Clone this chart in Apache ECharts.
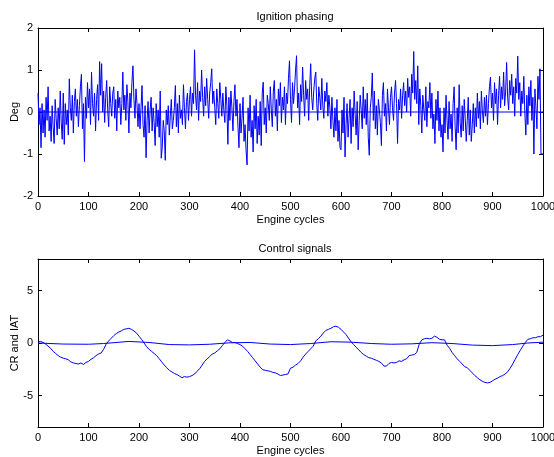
<!DOCTYPE html>
<html>
<head>
<meta charset="utf-8">
<script src="https://cdn.jsdelivr.net/npm/echarts@6/dist/echarts.min.js"></script>
<style>
  html, body { margin: 0; padding: 0; background: #fff; }
  #chart { width: 554px; height: 457px; }
</style>
</head>
<body>
<div id="chart"></div>
<script>
// Ignition phasing: one sample every 2 engine cycles (cycles 0..1000)
const phaseStep = 2;
const phasing = [
  0.45, -0.3, 0.1, -0.85, 0.2, -0.5, 0.05, -0.6, 0.35, -0.2, 0.6, -0.45, -0.1, -0.7, 0.15, -0.35, -0.75, 0.3, -0.15, -0.55, 0.1, -0.4, 0.5, -0.25, -0.65,
  0.45, -0.77, 0.2, -0.3, 0.05, -0.55, 0.79, 0.1, -0.2, 0.4, -0.5, 0.25, 0.55, -0.1, 0.3, -0.35, 0.15, 0.6, 0.9, -0.4, 0.2, -1.18, 0.35, -0.15, 0.7,
  0.1, 0.55, -0.3, 0.95, 0.2, -0.1, 0.45, -0.45, 0.3, 0.65, -0.2, 1.2, 0.4, 1.15, 0.0, 0.5, -0.25, 0.35, 0.75, 0.05, -0.35, 0.6, 0.2, -0.1, 0.45,
  0.6, -0.15, 0.3, -0.45, 0.5, 0.1, 0.35, -0.3, 0.2, 0.95, 0.05, 0.4, -0.2, 0.65, 0.25, -0.5, 0.45, 0.1, 0.7, 1.1, 0.3, -0.15, 0.55, 0.2, -0.35,
  0.2, -0.4, 0.1, 0.63, -0.3, -0.6, 0.15, -1.09, -0.2, 0.25, -0.5, 0.05, 0.35, -0.45, 0.1, -0.25, -0.8, 0.2, -0.35, 0.05, -0.6, 0.5, -1.1, -0.85, -0.2,
  -0.45, -1.15, 0.05, -0.3, 0.15, -0.55, -0.1, 0.3, -0.4, -0.2, 0.1, 0.63, -0.35, 0.2, -0.5, 0.4, -0.15, 0.05, -0.3, 0.65, 0.1, -0.4, 0.25, 0.45, -0.2,
  0.3, 0.6, -0.1, 0.45, 0.2, 1.48, 0.4, 0.05, 0.7, -0.2, 0.5, 0.25, 1.0, 0.35, -0.1, 0.6, 0.15, 0.8, 0.3, -0.15, 0.45, 0.7, 1.03, 0.2, 0.5,
  0.1, -0.3, 0.55, 0.2, -0.15, 0.7, 0.3, -0.1, 0.45, 0.05, -0.25, 0.6, 0.15, -0.77, 0.35, -0.2, 0.5, 0.1, -0.45, 0.25, 0.65, -0.1, 0.3, -0.35, -0.85,
  0.2, -0.5, -0.15, 0.35, -0.7, -0.3, -0.9, -1.26, 0.1, -0.45, 0.4, -0.6, -0.2, -0.95, 0.15, -0.4, 0.3, -0.75, -0.1, -0.55, 0.25, -0.8, 0.45, 0.71, -0.3,
  0.1, -0.5, 0.4, 0.2, -0.2, 0.6, 0.05, -0.35, 0.5, 0.75, -0.1, 0.3, -0.45, 0.55, 0.15, 0.7, -0.25, 0.35, 0.05, 0.6, -0.3, 0.45, 0.2, 0.8, 1.22,
  0.3, -0.25, 0.7, 0.2, 0.55, 1.0, 1.34, 0.1, 0.45, -0.3, 0.65, 0.25, 1.07, 0.4, -0.1, 0.75, 0.3, 0.55, -0.2, 0.6, 1.15, 0.35, 0.05, 0.5, 0.8,
  0.95, 0.2, -0.2, 0.6, 0.35, 0.05, 0.8, 0.15, -0.15, 0.5, 0.25, 0.7, -0.1, 0.4, 0.1, -0.4, 0.35, -0.2, -0.6, 0.1, -0.45, 0.3, -0.7, -0.2, -0.85,
  -0.9, 0.05, -0.5, 0.35, -1.07, -0.3, 0.2, -0.6, -0.15, 0.3, -0.75, 0.1, -0.35, 0.5, -0.05, -0.55, 0.25, -0.9, -0.2, 0.4, 0.05, -0.4, 0.6, -0.15, 0.3,
  -0.3, 0.45, -0.6, -1.03, 0.1, 0.35, 0.93, -0.2, 0.5, -0.4, 0.15, -0.55, 0.3, 0.05, -0.25, -0.8, 0.4, 0.7, -0.1, 0.2, -0.45, 0.55, 0.1, -0.3, 0.35,
  0.6, 0.1, -0.2, 0.45, 0.75, 0.2, -0.75, 0.3, 0.05, 0.55, -0.15, 0.4, 0.7, 0.15, 0.5, 0.0, 0.8, 0.35, 0.6, -0.1, 0.9, 0.45, 1.44, 0.3, 0.75,
  0.2, 1.1, -0.3, 0.55, 0.15, -0.5, 0.4, 0.05, -0.2, 0.6, -0.35, 0.25, 0.1, 0.7, -0.15, 0.45, -0.4, -0.05, -0.75, 0.3, -0.2, 0.5, -0.45, 0.1, -0.6,
  -0.3, -0.95, 0.1, -0.5, 0.4, -0.2, -0.65, 0.25, -0.4, -0.05, -0.7, 0.2, 0.6, -0.35, -0.9, 0.1, -0.5, 0.65, -0.25, -0.6, 0.15, -0.45, 0.3, -0.15, -0.7,
  -0.2, 0.35, -0.55, 0.05, -0.7, -0.3, 0.2, -0.5, 0.1, -0.35, 0.45, -0.15, 0.25, -0.4, 0.5, 0.0, -0.25, 0.35, -0.1, 0.4, -0.3, 0.2, 0.6, 0.83, 0.1,
  0.45, -0.2, 0.7, 0.2, 0.55, -0.3, 0.4, 0.85, 0.1, 0.6, 0.3, 0.95, 0.15, 0.5, 1.18, 0.35, 0.05, 0.75, 0.4, 0.9, 0.2, 0.6, -0.1, 0.8, 0.45,
  1.33, 0.3, 0.7, -0.1, 0.5, 0.2, 0.85, 0.0, -0.55, 0.4, -0.3, 0.6, 0.15, 0.75, -0.2, 0.35, -1.0, 0.55, 0.1, -0.4, 0.85, 0.3, 1.03, -1.0, -1.0,
  -1.0
];

// Phasing set point (flat reference line)
const phaseRefCycles = [0, 1000];
const phaseRefValues = [0, 0];

// Control signal CR: one sample every 5 cycles
const crStep = 5;
const crValues = [
  0.1, 0.15, 0.05, -0.1, -0.3, -0.5, -0.8, -1.0, -1.2, -1.35, -1.45, -1.5, -1.6, -1.8, -1.9, -1.95, -2.0, -1.9, -2.05, -1.85,
  -1.75, -1.55, -1.4, -1.2, -1.05, -0.95, -0.6, -0.1, 0.2, 0.45, 0.7, 0.9, 1.05, 1.15, 1.3, 1.35, 1.4, 1.3, 1.15, 0.95,
  0.65, 0.35, 0.0, -0.35, -0.6, -0.8, -1.0, -1.2, -1.5, -1.8, -2.1, -2.35, -2.6, -2.75, -2.9, -3.0, -3.15, -3.3, -3.2, -3.25,
  -3.2, -3.1, -2.95, -2.7, -2.45, -2.1, -1.75, -1.5, -1.3, -1.05, -0.95, -0.75, -0.55, -0.25, 0.05, 0.3, 0.2, 0.05, 0.05, -0.05,
  -0.15, -0.3, -0.55, -0.8, -1.1, -1.4, -1.7, -2.0, -2.3, -2.55, -2.6, -2.65, -2.7, -2.8, -2.85, -2.95, -3.1, -3.05, -3.0, -2.95,
  -2.4, -2.3, -2.1, -1.95, -1.7, -1.35, -1.05, -0.8, -0.55, -0.3, 0.2, 0.4, 0.65, 0.95, 1.2, 1.3, 1.4, 1.55, 1.6, 1.5,
  1.3, 1.05, 0.8, 0.45, 0.1, -0.15, -0.4, -0.65, -0.9, -1.1, -1.25, -1.4, -1.45, -1.55, -1.65, -1.75, -1.9, -2.2, -2.2, -1.95,
  -1.85, -1.9, -1.85, -1.7, -1.75, -1.6, -1.5, -1.2, -1.15, -1.1, -0.9, -0.1, 0.3, 0.4, 0.45, 0.4, 0.45, 0.65, 0.55, 0.35,
  0.3, 0.3, -0.2, -0.5, -0.9, -1.2, -1.5, -1.75, -2.0, -2.25, -2.35, -2.6, -2.85, -3.1, -3.3, -3.5, -3.65, -3.75, -3.8, -3.75,
  -3.6, -3.45, -3.35, -3.2, -3.1, -2.95, -2.75, -2.4, -2.0, -1.55, -1.1, -0.7, -0.3, 0.05, 0.35, 0.4, 0.5, 0.5, 0.6, 0.6,
  0.75
];

// Control signal IAT: slow drift, sampled at irregular cycles
const iatCycles = [0, 50, 100, 130, 180, 220, 260, 300, 340, 380, 420, 460, 500, 540, 580, 620, 660, 700, 740, 780, 820, 860, 900, 940, 970, 1000];
const iatValues = [0, -0.1, -0.12, -0.05, 0.15, 0.05, -0.15, -0.18, -0.12, 0.02, 0.05, -0.1, -0.15, -0.05, 0.12, 0.08, -0.05, -0.12, -0.08, 0.03, -0.05, -0.2, -0.25, -0.15, 0.0, 0.08];

// Axis tick settings
const cycleTicks = { min: 0, max: 1000, interval: 100 };
const phaseTicks = { min: -2, max: 2, interval: 1 };
const ctrlRange = { min: -8, max: 8 };
const ctrlTickValues = [-5, 0, 5];

const FONT = 'Liberation Sans, Arial, sans-serif';
const BLUE = '#0000ff';
const axisLineStyle = { show: true, onZero: false, lineStyle: { color: '#000', width: 1 } };
const tickStyle = { show: true, inside: true, length: 4, lineStyle: { color: '#000' } };
const labelStyle = { color: '#000', fontSize: 11, fontFamily: FONT };
const plainNumber = v => String(v);

function xAxes(grid) {
  return [
    {
      type: 'value', gridIndex: grid, position: 'bottom',
      min: cycleTicks.min, max: cycleTicks.max, interval: cycleTicks.interval,
      name: 'Engine cycles', nameLocation: 'middle', nameGap: 18,
      nameTextStyle: { color: '#000', fontSize: 11, fontFamily: FONT },
      axisLine: axisLineStyle, axisTick: tickStyle,
      axisLabel: Object.assign({ margin: 5, formatter: plainNumber, showMaxLabel: true, showMinLabel: true }, labelStyle),
      splitLine: { show: false }
    },
    {
      type: 'value', gridIndex: grid, position: 'top',
      min: cycleTicks.min, max: cycleTicks.max, interval: cycleTicks.interval,
      axisLine: axisLineStyle, axisTick: tickStyle,
      axisLabel: { show: false }, splitLine: { show: false }
    }
  ];
}

const yAxes = [
  {
    type: 'value', gridIndex: 0, position: 'left',
    min: phaseTicks.min, max: phaseTicks.max, interval: phaseTicks.interval,
    name: 'Deg', nameLocation: 'middle', nameGap: 18, nameRotate: 90, nameMoveOverlap: false,
    nameTextStyle: { color: '#000', fontSize: 11, fontFamily: FONT },
    axisLine: axisLineStyle, axisTick: tickStyle,
    axisLabel: Object.assign({ margin: 5, formatter: plainNumber }, labelStyle),
    splitLine: { show: false }
  },
  {
    type: 'value', gridIndex: 0, position: 'right',
    min: phaseTicks.min, max: phaseTicks.max, interval: phaseTicks.interval,
    axisLine: axisLineStyle, axisTick: tickStyle,
    axisLabel: { show: false }, splitLine: { show: false }
  },
  {
    type: 'value', gridIndex: 1, position: 'left',
    min: ctrlRange.min, max: ctrlRange.max,
    name: 'CR and IAT', nameLocation: 'middle', nameGap: 18, nameRotate: 90, nameMoveOverlap: false,
    nameTextStyle: { color: '#000', fontSize: 11, fontFamily: FONT },
    axisLine: axisLineStyle,
    axisTick: Object.assign({ customValues: ctrlTickValues }, tickStyle),
    axisLabel: Object.assign({ margin: 5, formatter: plainNumber, customValues: ctrlTickValues }, labelStyle),
    splitLine: { show: false }
  },
  {
    type: 'value', gridIndex: 1, position: 'right',
    min: ctrlRange.min, max: ctrlRange.max,
    axisLine: axisLineStyle,
    axisTick: Object.assign({ customValues: ctrlTickValues }, tickStyle),
    axisLabel: { show: false }, splitLine: { show: false }
  }
];

const lineBase = { type: 'line', showSymbol: false, symbol: 'none', silent: true, animation: false };

const chart = echarts.init(document.getElementById('chart'), null, { renderer: 'canvas' });
chart.setOption({
  backgroundColor: '#fff',
  animation: false,
  title: [
    { text: 'Ignition phasing', left: 290, top: 6, textAlign: 'center',
      textStyle: { color: '#000', fontSize: 11, fontWeight: 'normal', fontFamily: FONT } },
    { text: 'Control signals', left: 290, top: 238, textAlign: 'center',
      textStyle: { color: '#000', fontSize: 11, fontWeight: 'normal', fontFamily: FONT } }
  ],
  grid: [
    { left: 38, right: 11, top: 28, height: 168, outerBoundsMode: 'none', containLabel: false },
    { left: 38, right: 11, top: 259, height: 168, outerBoundsMode: 'none', containLabel: false }
  ],
  xAxis: xAxes(0).concat(xAxes(1)),
  yAxis: yAxes,
  series: [
    Object.assign({}, lineBase, {
      name: 'Phasing', xAxisIndex: 0, yAxisIndex: 0,
      data: phasing.map((v, i) => [i * phaseStep, v]),
      lineStyle: { color: BLUE, width: 1 }
    }),
    Object.assign({}, lineBase, {
      name: 'Set point', xAxisIndex: 0, yAxisIndex: 0,
      data: phaseRefCycles.map((c, i) => [c, phaseRefValues[i]]),
      lineStyle: { color: BLUE, width: 1 }
    }),
    Object.assign({}, lineBase, {
      name: 'CR', xAxisIndex: 2, yAxisIndex: 2,
      data: crValues.map((v, i) => [i * crStep, v]),
      lineStyle: { color: BLUE, width: 1 }
    }),
    Object.assign({}, lineBase, {
      name: 'IAT', xAxisIndex: 2, yAxisIndex: 2,
      data: iatCycles.map((c, i) => [c, iatValues[i]]),
      lineStyle: { color: BLUE, width: 1 }
    })
  ]
});
</script>
</body>
</html>
